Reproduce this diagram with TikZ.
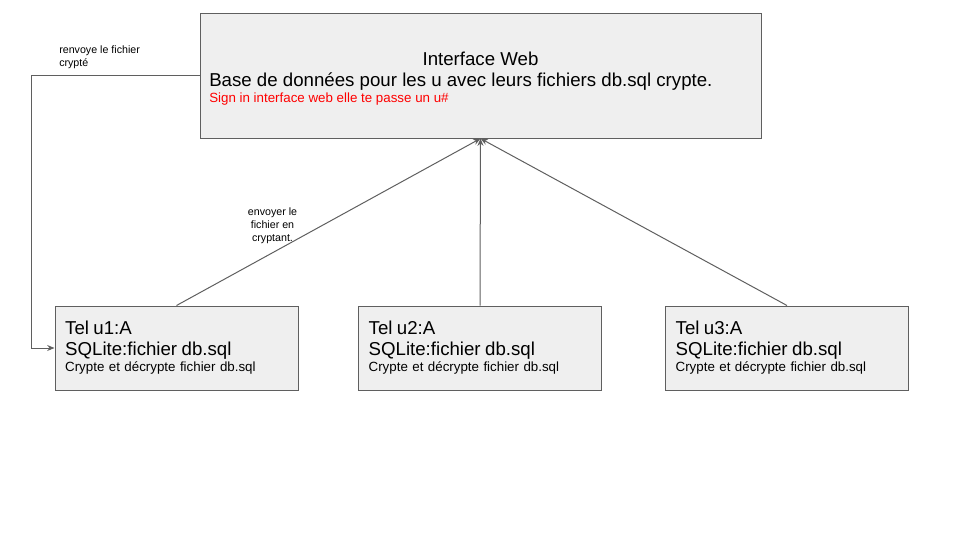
\documentclass[tikz,border=0pt]{standalone}
\usepackage{fontspec}
\setmainfont{Liberation Sans}
\usetikzlibrary{arrows.meta}
\definecolor{boxfill}{HTML}{EFEFEF}
\definecolor{boxline}{HTML}{5F5F5F}
\definecolor{signred}{HTML}{FF0000}
\tikzset{
    webbox/.style={draw=boxline, fill=boxfill, line width=0.75pt, minimum width=420.75pt, minimum height=93.75pt, inner sep=0pt},
    telbox/.style={draw=boxline, fill=boxfill, line width=0.75pt, minimum width=182.25pt, minimum height=63pt, inner xsep=7.5pt, text width=167pt, align=left},
    conn/.style={draw=boxline, line width=0.75pt, -{Stealth[length=5.5pt,width=4.5pt]}},
    petit/.style={inner sep=0pt, font=\fontsize{8}{9.75}\selectfont}
}
\begin{document}
\begin{tikzpicture}[x=0.75pt, y=-0.75pt]
    \useasboundingbox (0,0) rectangle (960,540);
    % interface web
    \node[webbox] (web) at (480.5,75.5) {};
    \node[anchor=base, inner sep=0pt, font=\fontsize{14}{16}\selectfont] (webtitre) at (480.5,65) {Interface Web};
    \node[anchor=base west, inner sep=0pt, font=\fontsize{14}{16}\selectfont] (webbase) at (209,86) {Base de données pour les u avec leurs fichiers db.sql crypte.};
    \node[anchor=base west, inner sep=0pt, text=signred, font=\fontsize{10}{12}\selectfont] (websign) at (209,102) {Sign in interface web elle te passe un u\#};

    % les telephones
    \foreach \i/\x in {1/176.5, 2/480, 3/787}{
        \node[telbox] (tel\i) at (\x,348) {\fontsize{14}{15.75}\selectfont Tel u\i:A\\SQLite:fichier db.sql\\\fontsize{10}{12}\selectfont Crypte et décrypte fichier db.sql};
        \draw[conn] (tel\i.north) -- (web.south);
    }

    % retour vers u1
    \coordinate (retour) at (31,75.5);
    \draw[conn] (web.west) -- (retour) |- (tel1.west);

    \node[petit, anchor=north west, align=left] (renvoi) at (59,45) {renvoye le fichier\\crypté};
    \node[petit, anchor=north, align=center] (envoi) at (272.5,207.7) {envoyer le\\fichier en\\cryptant.};
\end{tikzpicture}
\end{document}
